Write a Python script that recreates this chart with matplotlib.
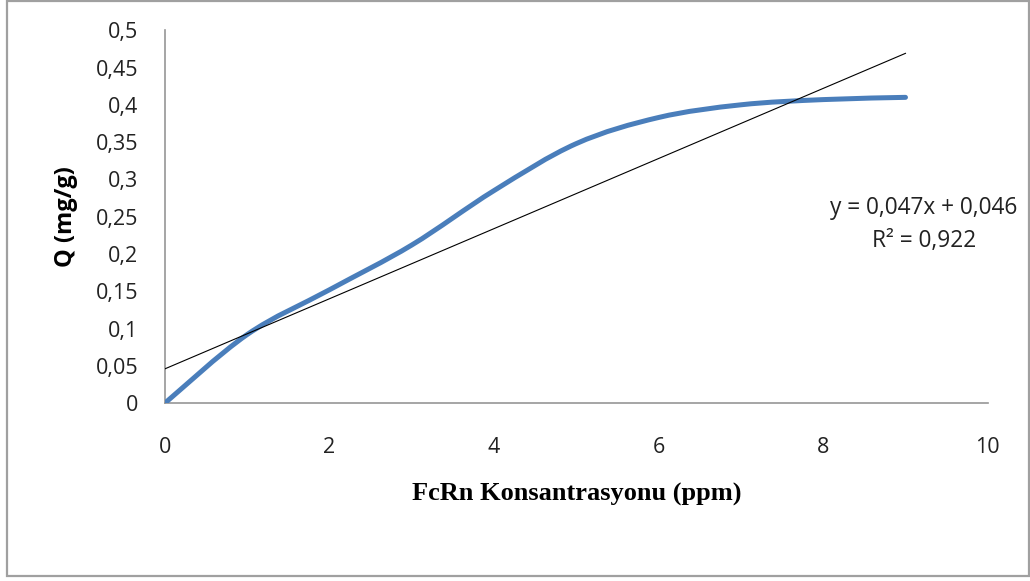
import numpy as np
import matplotlib
matplotlib.use("Agg")
import matplotlib.pyplot as plt
from matplotlib.path import Path
from matplotlib.patches import PathPatch, Rectangle
import matplotlib.ticker as mtick

# values
conc = [0, 1, 2, 3, 4, 5, 6, 7, 8, 9]
q_vals = [0.0, 0.092, 0.152, 0.212, 0.285, 0.348, 0.383, 0.400, 0.407, 0.410]
slope = 0.047
intercept = 0.046
r2 = 0.922

x_ticks = [0, 2, 4, 6, 8, 10]
y_ticks = [0, 0.05, 0.1, 0.15, 0.2, 0.25, 0.3, 0.35, 0.4, 0.45, 0.5]

BLUE = "#4a7ebb"
GREY = "#969696"
TICK_FONT = ["Open Sans", "DejaVu Sans"]


def smooth_path(xs, ys, tension=1 / 6):
    # Excel-style smoothed line: cubic Bezier through every point
    pts = np.column_stack([xs, ys]).astype(float)
    verts = [pts[0]]
    codes = [Path.MOVETO]
    n = len(pts)
    for i in range(n - 1):
        p0 = pts[i - 1] if i > 0 else pts[i]
        p1 = pts[i]
        p2 = pts[i + 1]
        p3 = pts[i + 2] if i + 2 < n else pts[i + 1]
        c1 = p1 + (p2 - p0) * tension
        c2 = p2 - (p3 - p1) * tension
        verts += [c1, c2, p2]
        codes += [Path.CURVE4] * 3
    return Path(verts, codes)


def comma(v, pos=None):
    s = f"{v:.2f}".rstrip("0").rstrip(".")
    return s.replace(".", ",")


fig = plt.figure(figsize=(10.3, 5.81), dpi=100)
ax = fig.add_axes([0.160, 0.306, 0.799, 0.642])

curve = PathPatch(smooth_path(conc, q_vals), fill=False, edgecolor=BLUE,
                  linewidth=3.6, capstyle="round", joinstyle="round", zorder=3)
ax.add_patch(curve)

trend_x = np.array([conc[0], conc[-1]])
ax.plot(trend_x, slope * trend_x + intercept, color="black", linewidth=0.8, zorder=4)

ax.set_xlim(0, 10)
ax.set_ylim(0, 0.5)
ax.set_xticks(x_ticks)
ax.set_yticks(y_ticks)
ax.xaxis.set_major_formatter(mtick.FuncFormatter(comma))
ax.yaxis.set_major_formatter(mtick.FuncFormatter(comma))
ax.tick_params(axis="both", length=0, labelsize=15.5, colors="#222222")
ax.tick_params(axis="x", pad=24)
ax.tick_params(axis="y", pad=19)
for lab in ax.get_xticklabels() + ax.get_yticklabels():
    lab.set_family(TICK_FONT)

for side in ["top", "right"]:
    ax.spines[side].set_visible(False)
for side in ["left", "bottom"]:
    ax.spines[side].set_color(GREY)
    ax.spines[side].set_linewidth(1.2)

ax.set_ylabel("Q (mg/g)", fontsize=17, fontweight="bold",
              family=TICK_FONT, labelpad=13)
ax.set_xlabel("FcRn Konsantrasyonu (ppm)", fontsize=19, fontweight="bold",
              family=["Liberation Serif", "DejaVu Serif"], labelpad=18)

ax.text(0.897, 0.614, f"y = {str(slope).replace('.', ',')}x + {str(intercept).replace('.', ',')}\n"
        f"R² = {str(r2).replace('.', ',')}",
        transform=fig.transFigure, ha="center", va="center", fontsize=16.3,
        family=TICK_FONT, color="#222222", linespacing=1.5)

# outer chart frame
fig.patches.append(Rectangle((0.0065, 0.008), 0.9925, 0.99, transform=fig.transFigure,
                             fill=False, edgecolor="#a0a0a0", linewidth=1.6))

fig.savefig("out.png", dpi=100)
